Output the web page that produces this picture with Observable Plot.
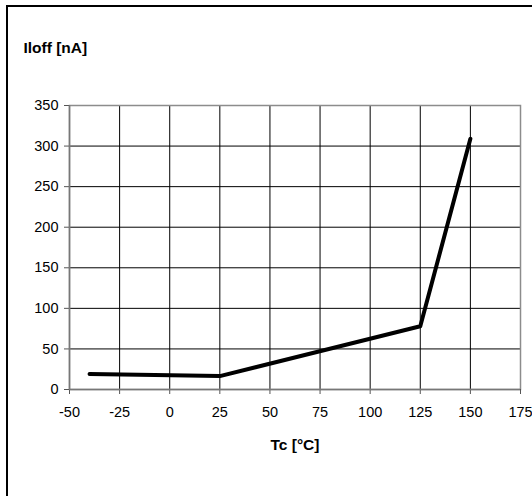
<!DOCTYPE html>
<html>
<head>
<meta charset="utf-8">
<script src="https://cdn.jsdelivr.net/npm/d3@7"></script>
<script src="https://cdn.jsdelivr.net/npm/@observablehq/plot@0.6"></script>
<style>
  html, body { margin: 0; padding: 0; background: white; }
  #wrap { position: relative; width: 532px; height: 496px; overflow: hidden; }
  #border { position: absolute; left: 6px; top: 5px; width: 600px; height: 600px;
            border-top: 2.5px solid black; border-left: 2.5px solid black; pointer-events: none; }
  #chart { position: absolute; left: 0; top: 0; }
</style>
</head>
<body>
<div id="wrap"><div id="chart"></div><div id="border"></div></div>
<script>
const temps = [-40, 25, 125, 150];
const iloff = [19, 16.5, 78, 309];
const xTicks = [-50, -25, 0, 25, 50, 75, 100, 125, 150, 175];
const yTicks = [0, 50, 100, 150, 200, 250, 300, 350];
const yTitle = "Iloff [nA]";
const xTitle = "Tc [°C]";

const data = temps.map((t, i) => ({t, v: iloff[i]}));

const chart = Plot.plot({
  width: 532,
  height: 496,
  marginLeft: 69,
  marginRight: 12,
  marginTop: 105,
  marginBottom: 107,
  x: {domain: [-50, 175]},
  y: {domain: [0, 350]},
  style: {fontFamily: "'Liberation Sans', Arial, sans-serif", fontSize: "14.5px", color: "black", background: "transparent"},
  marks: [
    Plot.gridX(xTicks.filter(d => d > -50 && d < 175), {stroke: "black", strokeOpacity: 1, strokeWidth: 1}),
    Plot.gridY(yTicks.filter(d => d > 0 && d < 350), {stroke: "black", strokeOpacity: 1, strokeWidth: 1}),
    Plot.frame({stroke: "#8c8c8c", strokeWidth: 1.5}),
    Plot.axisX({ticks: xTicks, tickSize: 5, tickPadding: 12, stroke: "#555", fill: "black", fontSize: 14.5, label: null, tickFormat: d => String(d)}),
    Plot.axisY({ticks: yTicks, tickSize: 5, tickPadding: 6, stroke: "#555", fill: "black", fontSize: 14.5, label: null, tickFormat: d => String(d)}),
    Plot.ruleX([-50], {stroke: "#777", strokeWidth: 1.5}),
    Plot.ruleY([0], {stroke: "#777", strokeWidth: 1.5}),
    Plot.line(data, {x: "t", y: "v", stroke: "black", strokeWidth: 4}),
    Plot.text([yTitle], {frameAnchor: "top-left", textAnchor: "start", lineAnchor: "middle", dx: -46, dy: -57, fontWeight: "bold", fontSize: 15.5}),
    Plot.text([xTitle], {frameAnchor: "bottom", textAnchor: "middle", lineAnchor: "middle", dy: 56, fontWeight: "bold", fontSize: 15.5})
  ]
});
document.getElementById("chart").appendChild(chart);
</script>
</body>
</html>
